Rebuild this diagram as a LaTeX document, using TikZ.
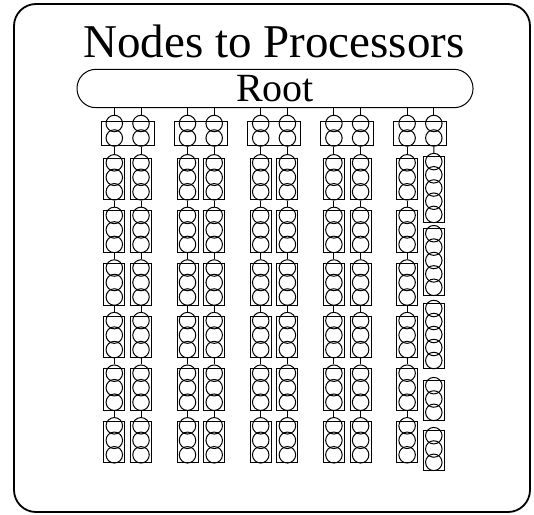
\documentclass[tikz,border=0pt]{standalone}
\usepackage{fontspec}
\setmainfont{Liberation Serif}
\usepackage{tikz}

\tikzset{
  proc/.style={draw, circle, minimum size=16.5pt, inner sep=0pt},
  procbox/.style={draw}
}

\begin{document}
\begin{tikzpicture}[x=1pt,y=-1pt,line width=1pt]
        \useasboundingbox (0,0) rectangle (534,514);
        \draw[line width=1.8pt,rounded corners=22pt] (14,4) rectangle (530,512);
        \node[anchor=base] (title) at (274,57) {\fontsize{47}{50}\selectfont Nodes to Processors};
        \node[draw,rounded corners=19pt,minimum width=396pt,minimum height=38.4pt,inner sep=0pt] (root) at (275,88.5) {\fontsize{40}{44}\selectfont Root};
        \foreach \gr in {0,...,4}{
            \pgfmathsetmacro{\xa}{114.3+73.2*\gr}
            \pgfmathsetmacro{\xb}{\xa+26.7}
            \draw[procbox] (\xa-13.3,121.7) rectangle (\xb+13,145);
            \foreach \co/\x in {1/\xa,2/\xb}{
                \node[proc] (p-\gr-\co-1) at (\x,123.5) {};
                \node[proc] (p-\gr-\co-2) at (\x,138) {};
                \draw (p-\gr-\co-1) -- (p-\gr-\co-1 |- root.south);
            }
        }
        \foreach \gr/\co in {0/1,0/2,1/1,1/2,2/1,2/2,3/1,3/2,4/1}{
            \pgfmathsetmacro{\x}{114.3+73.2*\gr+26.7*(\co-1)}
            \foreach \bx in {0,...,5}{
                \pgfmathsetmacro{\ty}{158.3+52.6*\bx}
                \draw[procbox] (\x-10.5,\ty) rectangle (\x+10.5,\ty+41.5);
                \foreach \ci in {1,2,3}{
                    \pgfmathtruncatemacro{\kk}{2+3*\bx+\ci}
                    \node[proc] (p-\gr-\co-\kk) at (\x,\ty+14.5*\ci-10) {};
                }
            }
            \foreach \kk in {2,5,...,17}{
                \pgfmathtruncatemacro{\nx}{\kk+1}
                \draw (p-\gr-\co-\kk) -- (p-\gr-\co-\nx);
            }
        }
        \foreach \ty/\hh/\nc/\first in {156/66/5/3, 228/67/5/8, 303/65/5/13, 380/40/3/18, 430/40/3/21}{
            \draw[procbox] (423.3,\ty) rectangle (444.3,\ty+\hh);
            \foreach \ci in {1,...,\nc}{
                \pgfmathtruncatemacro{\kk}{\first+\ci-1}
                \node[proc] (p-4-2-\kk) at (433.8,\ty+\hh/\nc*\ci-\hh/\nc/2-1) {};
            }
        }
        \draw (p-4-2-2) -- (p-4-2-3);
    \end{tikzpicture}
\end{document}
